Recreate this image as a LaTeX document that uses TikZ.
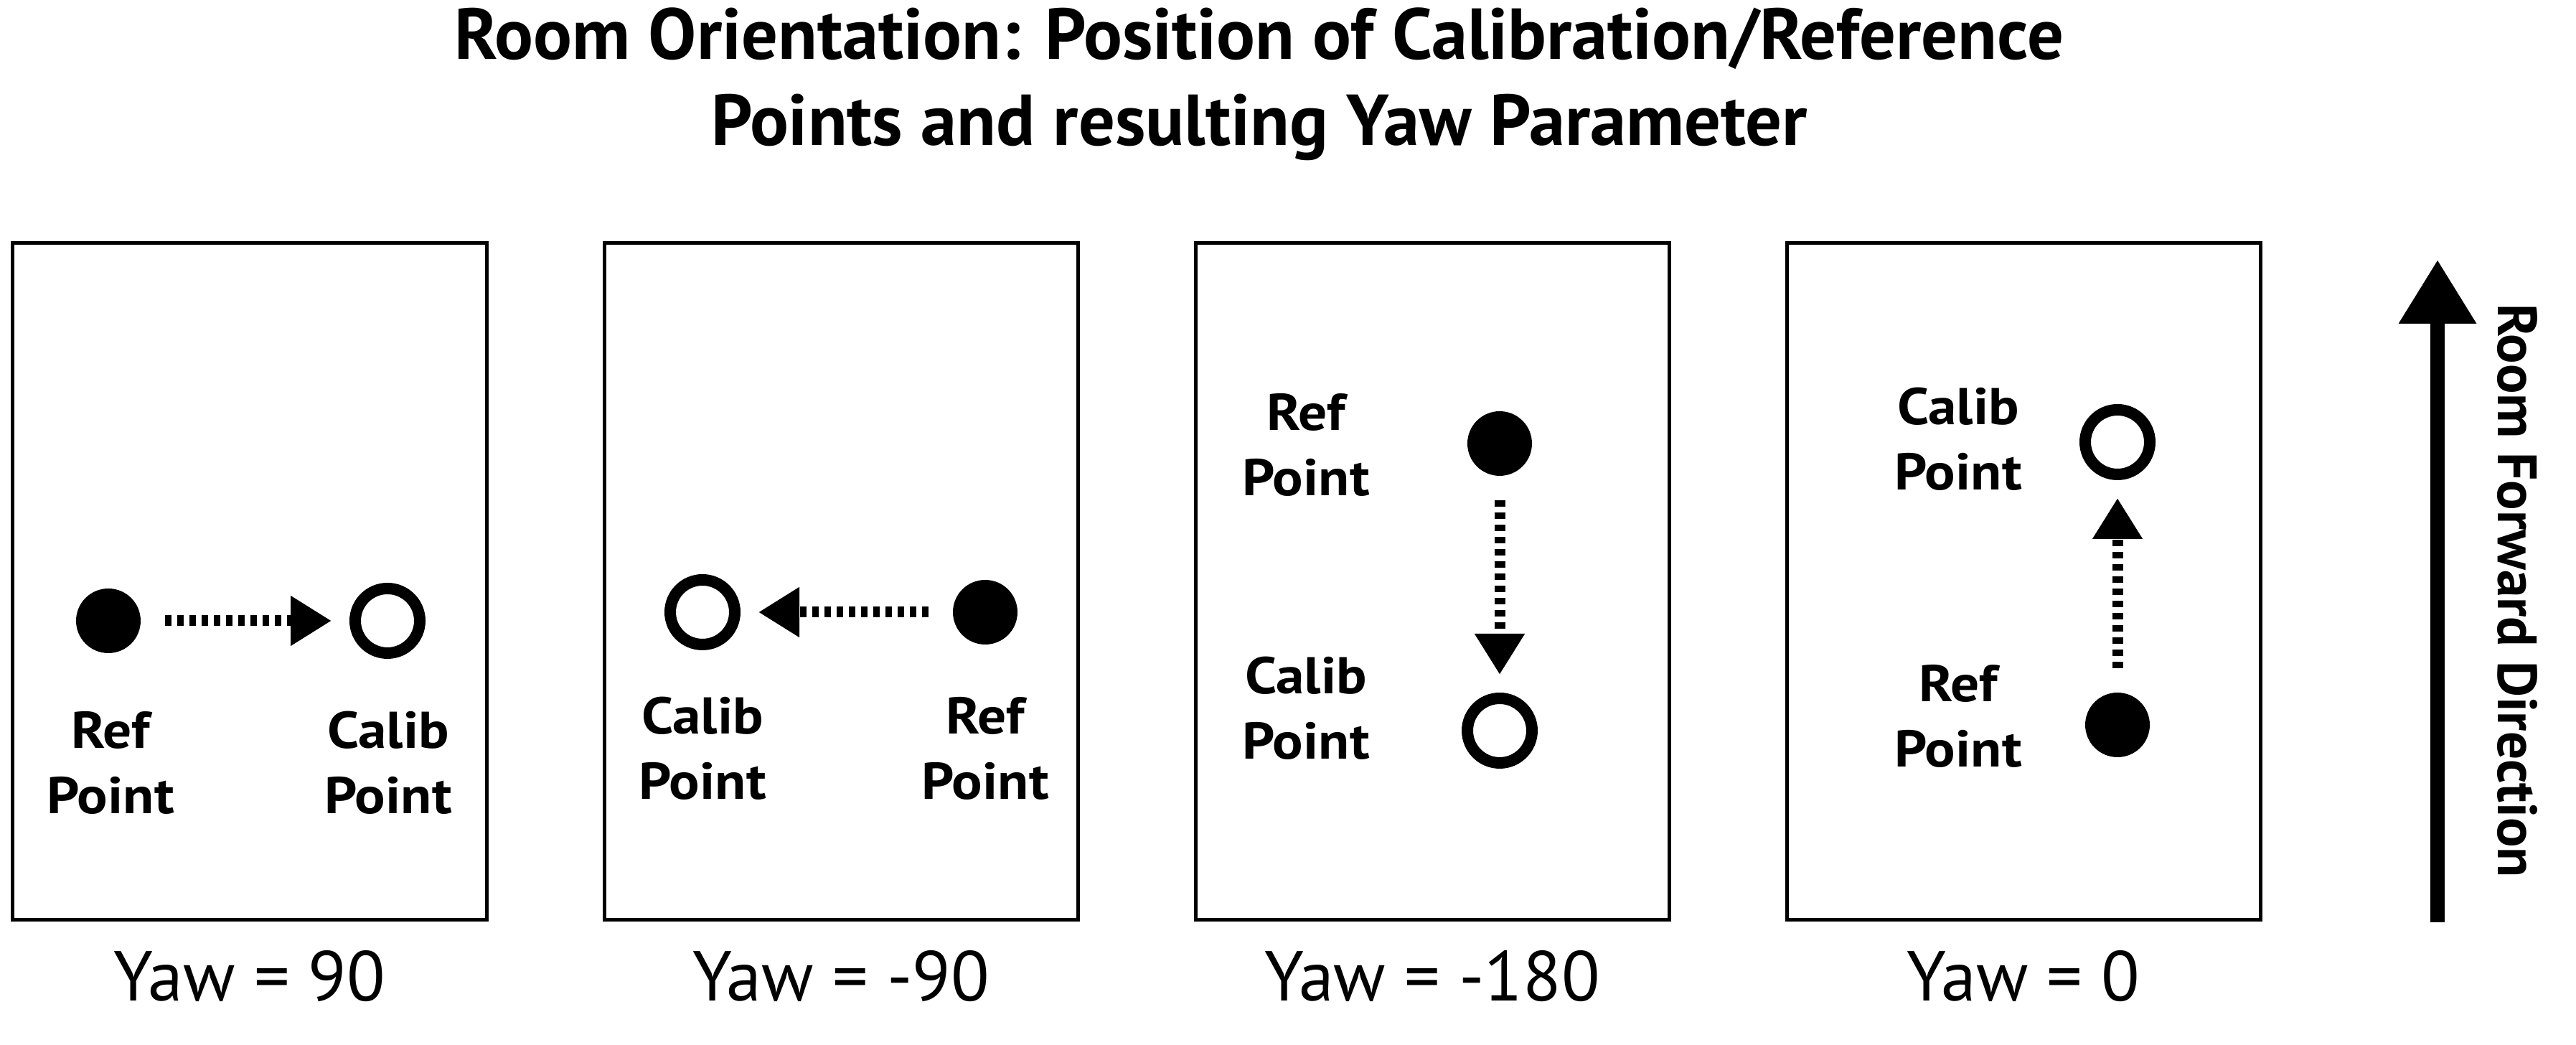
\documentclass[tikz,border=0pt]{standalone}
\usepackage{fontspec}
\setmainfont{PT Sans}
\usetikzlibrary{arrows.meta}

\begin{document}
\begin{tikzpicture}[
		room/.style={draw, line width=0.05cm, minimum width=6.6cm, minimum height=9.43cm, inner sep=0},
		refpt/.style={circle, fill, inner sep=0, outer sep=0, minimum size=0.9cm},
		calpt/.style={circle, draw, line width=0.16cm, inner sep=0, minimum size=0.9cm},
		ptlabel/.style={align=center, font=\bfseries\fontsize{20.5}{26}\selectfont\addfontfeature{FakeStretch=1.1}},
		yawlabel/.style={font=\fontsize{28}{34}\selectfont},
		flow/.style={line width=0.15cm, dash pattern=on 0.09cm off 0.08cm, shorten <=0.34cm, shorten >=0.25cm, -{Triangle[length=0.57cm,width=0.66cm]}}]
	\useasboundingbox (0,0) rectangle (35.90,14.56);
	\node[anchor=base, font=\bfseries\fontsize{28.6}{34}\selectfont] (title) at (17.55,13.73) {Room Orientation: Position of Calibration/Reference};
	\node[anchor=base, font=\bfseries\fontsize{28.6}{34}\selectfont] (subtitle) at (17.55,12.53) {Points and resulting Yaw Parameter};

	\node[room] (room1) at (3.48,6.455) {};
	\node[room] (room2) at (11.72,6.455) {};
	\node[room] (room3) at (19.96,6.455) {};
	\node[room] (room4) at (28.20,6.455) {};

	\node[refpt] (ref1) at (1.51,5.91) {};
	\node[calpt] (cal1) at (5.40,5.91) {};
	\draw[flow] (ref1) -- (cal1);
	\node[ptlabel] (reflab1) at (1.54,3.93) {Ref\\Point};
	\node[ptlabel] (callab1) at (5.41,3.93) {Calib\\Point};

	\node[refpt] (ref2) at (13.73,6.03) {};
	\node[calpt] (cal2) at (9.79,6.03) {};
	\draw[flow] (ref2) -- (cal2);
	\node[ptlabel] (reflab2) at (13.73,4.13) {Ref\\Point};
	\node[ptlabel] (callab2) at (9.79,4.13) {Calib\\Point};

	\node[refpt] (ref3) at (20.90,8.38) {};
	\node[calpt] (cal3) at (20.90,4.38) {};
	\draw[flow] (ref3) -- (cal3);
	\node[ptlabel] (reflab3) at (18.20,8.36) {Ref\\Point};
	\node[ptlabel] (callab3) at (18.20,4.69) {Calib\\Point};

	\node[calpt] (cal4) at (29.51,8.40) {};
	\node[refpt] (ref4) at (29.51,4.46) {};
	\draw[flow] (ref4) -- (cal4);
	\node[ptlabel] (callab4) at (27.29,8.44) {Calib\\Point};
	\node[ptlabel] (reflab4) at (27.29,4.58) {Ref\\Point};

	\node[yawlabel] (yaw1) at (3.48,0.96) {Yaw = 90};
	\node[yawlabel] (yaw2) at (11.72,0.96) {Yaw = -90};
	\node[yawlabel] (yaw3) at (19.96,0.96) {Yaw = -180};
	\node[yawlabel] (yaw4) at (28.20,0.96) {Yaw = 0};

	\coordinate (fwdtail) at (33.97,1.71);
	\coordinate (fwdhead) at (33.97,10.94);
	\draw[line width=0.2cm, -{Triangle[length=0.89cm,width=1.03cm]}] (fwdtail) -- (fwdhead);
	\node[rotate=-90, font=\bfseries\fontsize{22}{26}\selectfont] (fwdlabel) at (35.08,6.33) {Room Forward Direction};
\end{tikzpicture}
\end{document}
